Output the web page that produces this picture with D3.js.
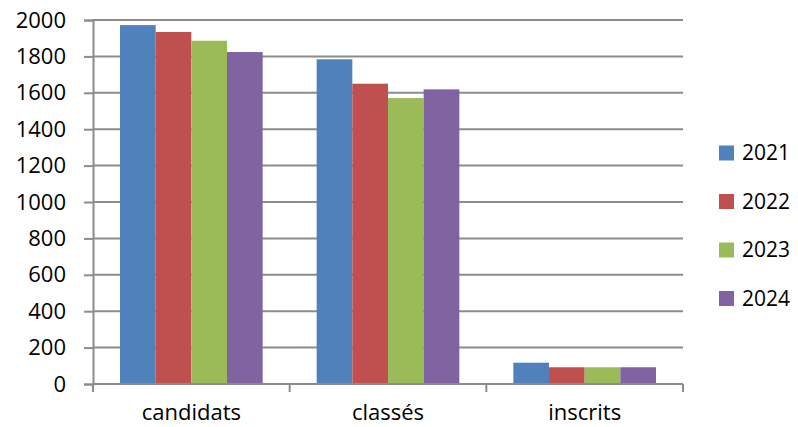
<!DOCTYPE html>
<html>
<head>
<meta charset="utf-8">
<script src="https://cdn.jsdelivr.net/npm/d3@7"></script>
<style>
  body { margin: 0; background: #fff; }
  text { font-family: "Open Sans", sans-serif; fill: #000; }
</style>
</head>
<body>
<script>
const categories = ["candidats", "classés", "inscrits"];
const years = ["2021", "2022", "2023", "2024"];
const values2021 = [1972, 1784, 117];
const values2022 = [1934, 1650, 92];
const values2023 = [1886, 1571, 92];
const values2024 = [1824, 1619, 92];
const yTicks = [0, 200, 400, 600, 800, 1000, 1200, 1400, 1600, 1800, 2000];
const colors = ["#4F81BD", "#C0504D", "#9BBB59", "#8064A2"];

const series = [values2021, values2022, values2023, values2024];

const width = 798, height = 427;
const plotLeft = 93, plotRight = 683, plotTop = 20, plotBottom = 384;

const svg = d3.select("body").append("svg")
  .attr("width", width)
  .attr("height", height);

const x = d3.scaleBand().domain(categories).range([plotLeft, plotRight]).paddingInner(0).paddingOuter(0);
const xInner = d3.scaleBand().domain(years).range([27, x.bandwidth() - 27]);
const y = d3.scaleLinear().domain([0, 2000]).range([plotBottom, plotTop]);

// Gridlines
svg.append("g")
  .selectAll("line")
  .data(yTicks.filter(d => d > 0))
  .enter()
  .append("line")
  .attr("x1", plotLeft)
  .attr("x2", plotRight)
  .attr("y1", d => y(d))
  .attr("y2", d => y(d))
  .attr("stroke", "#8c8c8c")
  .attr("stroke-width", 2);

// Bars
categories.forEach((cat, ci) => {
  svg.append("g")
    .selectAll("rect")
    .data(series.map((s, si) => ({ year: years[si], value: s[ci], color: colors[si] })))
    .enter()
    .append("rect")
    .attr("x", d => x(cat) + xInner(d.year))
    .attr("y", d => y(d.value))
    .attr("width", xInner.bandwidth())
    .attr("height", d => plotBottom - y(d.value))
    .attr("fill", d => d.color);
});

// Y axis
const yAxis = svg.append("g")
  .attr("transform", `translate(${plotLeft},0)`)
  .call(d3.axisLeft(y).tickValues(yTicks).tickSize(9).tickPadding(18).tickFormat(d3.format("d")));
yAxis.select(".domain").attr("stroke", "#8c8c8c").attr("stroke-width", 2);
yAxis.selectAll(".tick line").attr("stroke", "#8c8c8c").attr("stroke-width", 2);
yAxis.selectAll("text").style("font-size", "22px").attr("fill", "#000");

// X axis
const xAxis = svg.append("g")
  .attr("transform", `translate(0,${plotBottom})`);
xAxis.append("line")
  .attr("x1", plotLeft).attr("x2", plotRight)
  .attr("stroke", "#8c8c8c").attr("stroke-width", 2);
xAxis.selectAll(".sep")
  .data(categories.map(c => x(c)).concat([plotRight]))
  .enter()
  .append("line")
  .attr("class", "sep")
  .attr("x1", d => d).attr("x2", d => d)
  .attr("y1", 0).attr("y2", 8)
  .attr("stroke", "#8c8c8c").attr("stroke-width", 2);
xAxis.selectAll("text")
  .data(categories)
  .enter()
  .append("text")
  .attr("x", d => x(d) + x.bandwidth() / 2)
  .attr("y", 36)
  .attr("text-anchor", "middle")
  .style("font-size", "22px")
  .text(d => d);

// Legend
const legend = svg.append("g");
years.forEach((yr, i) => {
  const ly = 153 + i * 48.5;
  legend.append("rect")
    .attr("x", 719).attr("y", ly - 7.5)
    .attr("width", 15).attr("height", 15)
    .attr("fill", colors[i]);
  legend.append("text")
    .attr("x", 742).attr("y", ly)
    .attr("dy", "0.35em")
    .style("font-size", "21px")
    .text(yr);
});
</script>
</body>
</html>
